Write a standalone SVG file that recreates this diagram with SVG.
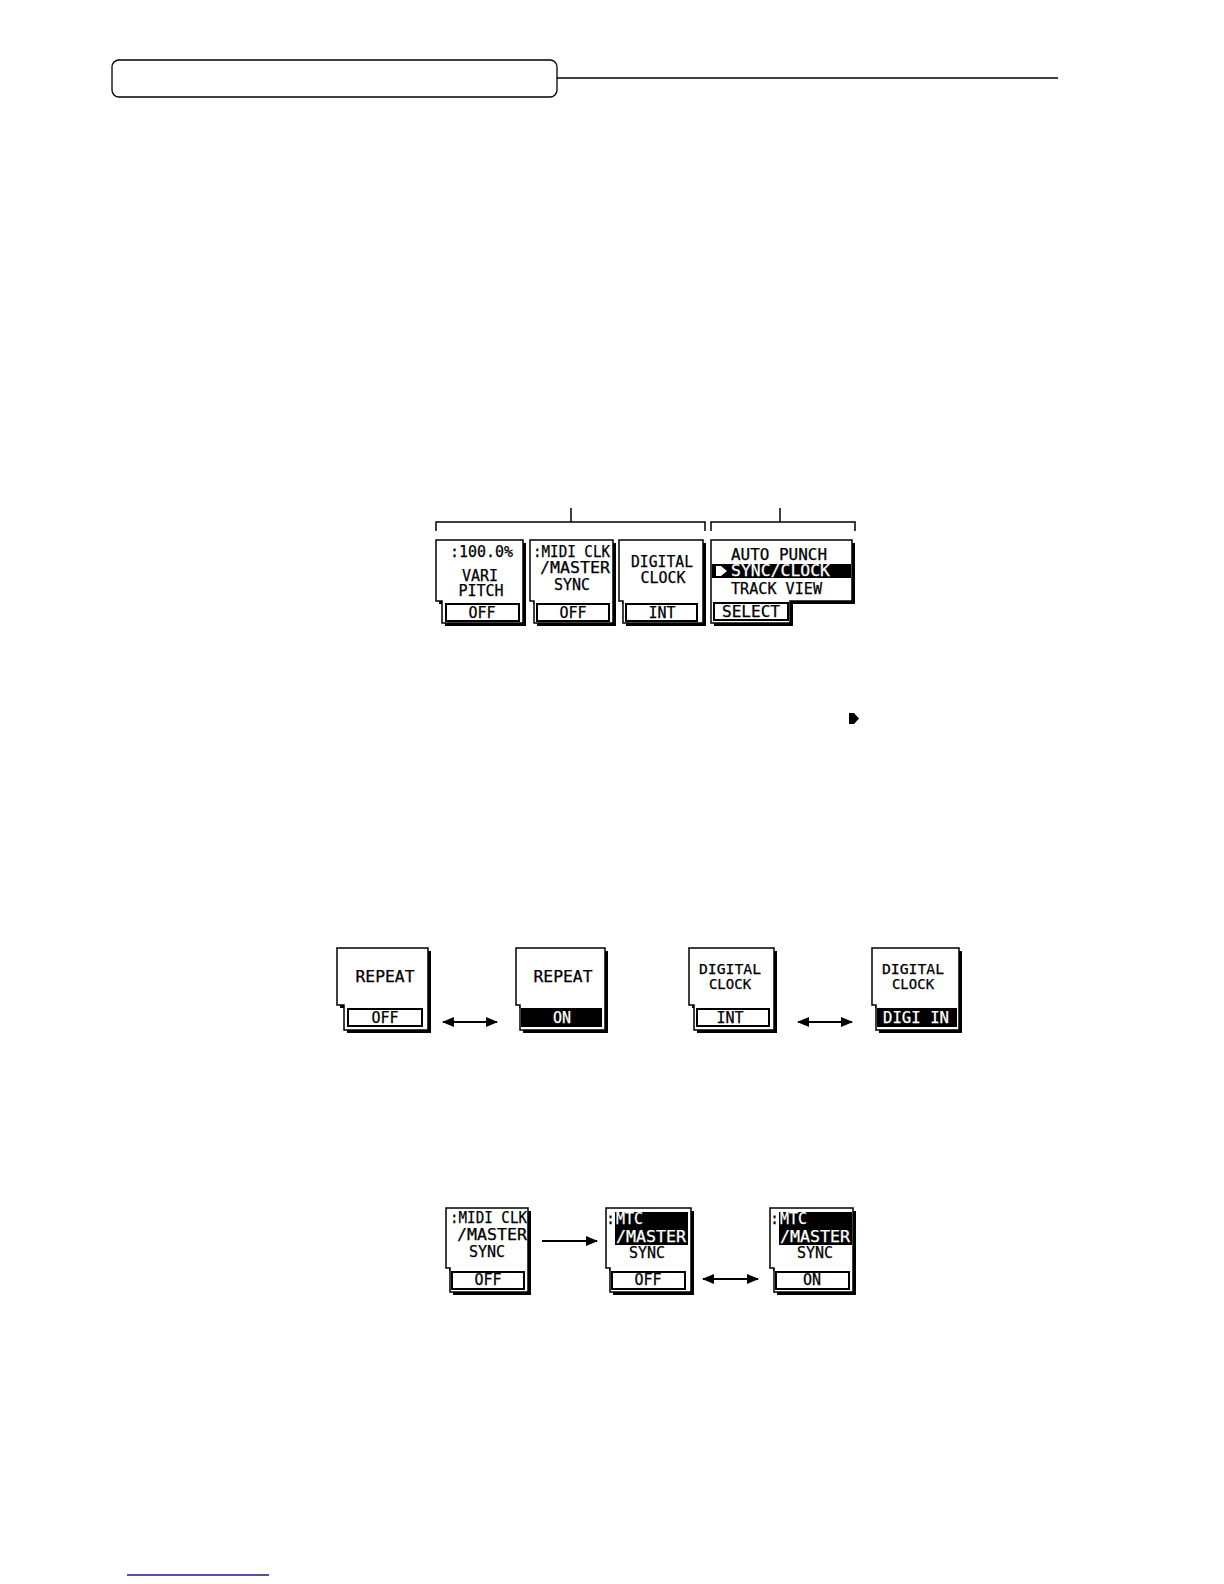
<svg xmlns="http://www.w3.org/2000/svg" width="1224" height="1584" viewBox="0 0 1224 1584">
<style>
.bg{fill:#fff}
.pnl{fill:#fff;stroke:#000;stroke-width:1.5;stroke-linejoin:miter}
.sh{fill:#000}
.vb{fill:#fff;stroke:#000;stroke-width:2}
.vbk{fill:#000;stroke:#000;stroke-width:2}
.t{font-family:"DejaVu Sans Mono","Liberation Mono",monospace;font-size:15px;fill:#000;stroke:#000;stroke-width:0.25}
.c{text-anchor:middle}
.w{fill:#fff;stroke:#fff}
.s{font-size:14px}
.ln{stroke:#000;stroke-width:1.5;fill:none}
.ar{stroke:#000;stroke-width:2;fill:none}
</style>
<defs>
<marker id="ah" markerWidth="12" markerHeight="10" refX="11" refY="5" orient="auto-start-reverse" markerUnits="userSpaceOnUse">
<path d="M0,0 L12,5 L0,10 Z" fill="#000"/>
</marker>
</defs>
<rect class="bg" width="1224" height="1584"/>

<g id="header">
<rect x="112" y="60" width="445" height="37" rx="7" fill="#fff" stroke="#000" stroke-width="1.3"/>
<line x1="557" y1="78" x2="1058" y2="78" stroke="#000" stroke-width="1.3"/>
</g>

<g id="brackets">
<path class="ln" d="M436,531 V522 H705 V531 M571,508 V522"/>
<path class="ln" d="M711,531 V522 H855 V531 M780,508 V522"/>
</g>

<g id="vari-pitch">
<path class="sh" d="M439,543 H526 V626 H445 V604 H439 Z"/>
<path class="pnl" d="M436,540 H523 V623 H442 V601 H436 Z"/>
<rect class="vb" x="446" y="604" width="73" height="17"/>
<text class="t" x="450" y="557" textLength="63" lengthAdjust="spacingAndGlyphs">:100.0%</text>
<text class="t c" x="480" y="581">VARI</text>
<text class="t c" x="481" y="596">PITCH</text>
<text class="t c" x="482" y="618">OFF</text>
</g>

<g id="midi-clk-sync">
<path class="sh" d="M533,543 H616 V626 H537 V604 H533 Z"/>
<path class="pnl" d="M530,540 H613 V623 H534 V601 H530 Z"/>
<rect class="vb" x="537" y="604" width="72" height="17"/>
<text class="t" x="533" y="557" textLength="77" lengthAdjust="spacingAndGlyphs">:MIDI CLK</text>
<text class="t" x="540" y="573" textLength="70" lengthAdjust="spacingAndGlyphs">/MASTER</text>
<text class="t c" x="572" y="590">SYNC</text>
<text class="t c" x="573" y="618">OFF</text>
</g>

<g id="digital-clock">
<path class="sh" d="M622,543 H706 V626 H626 V604 H622 Z"/>
<path class="pnl" d="M619,540 H703 V623 H623 V601 H619 Z"/>
<rect class="vb" x="626" y="604" width="71" height="17"/>
<text class="t c" x="662" y="567" textLength="62" lengthAdjust="spacingAndGlyphs">DIGITAL</text>
<text class="t c" x="663" y="583">CLOCK</text>
<text class="t c" x="662" y="618">INT</text>
</g>

<g id="menu">
<path class="sh" d="M714,543 H855 V604 H793 V626 H714 Z"/>
<path class="pnl" d="M711,540 H852 V601 H790 V623 H711 Z"/>
<rect x="712" y="564" width="139" height="14" fill="#000"/>
<path d="M716,566 H721 L727,571 L721,576 H716 Z" fill="#fff"/>
<rect class="vb" x="714" y="603" width="74" height="17"/>
<text class="t" x="731" y="560" textLength="96" lengthAdjust="spacingAndGlyphs">AUTO PUNCH</text>
<text class="t w" x="731" y="576" textLength="99" lengthAdjust="spacingAndGlyphs">SYNC/CLOCK</text>
<text class="t" x="731" y="594" textLength="91" lengthAdjust="spacingAndGlyphs">TRACK VIEW</text>
<text class="t" x="722" y="617" textLength="58" lengthAdjust="spacingAndGlyphs">SELECT</text>
</g>

<g id="cursor-symbol">
<path d="M849,713 H854 L859,718.5 L854,724 H849 Z" fill="#000"/>
</g>

<g id="repeat-off">
<path class="sh" d="M340,951 H431 V1033 H347 V1008 H340 Z"/>
<path class="pnl" d="M337,948 H428 V1030 H344 V1005 H337 Z"/>
<rect class="vb" x="348" y="1009" width="74" height="17"/>
<text class="t c" x="385" y="982" textLength="59" lengthAdjust="spacingAndGlyphs">REPEAT</text>
<text class="t c" x="385" y="1023">OFF</text>
</g>

<g id="repeat-on">
<path class="sh" d="M519,951 H608 V1033 H523 V1008 H519 Z"/>
<path class="pnl" d="M516,948 H605 V1030 H520 V1005 H516 Z"/>
<rect class="vbk" x="522" y="1009" width="79" height="17"/>
<text class="t c" x="563" y="982" textLength="59" lengthAdjust="spacingAndGlyphs">REPEAT</text>
<text class="t c w" x="562" y="1023">ON</text>
</g>

<g id="digital-int">
<path class="sh" d="M692,951 H777 V1033 H697 V1008 H692 Z"/>
<path class="pnl" d="M689,948 H774 V1030 H694 V1005 H689 Z"/>
<rect class="vb" x="697" y="1009" width="72" height="17"/>
<text class="t c s" x="730" y="974" textLength="62" lengthAdjust="spacingAndGlyphs">DIGITAL</text>
<text class="t c s" x="730" y="989">CLOCK</text>
<text class="t c" x="730" y="1023">INT</text>
</g>

<g id="digital-digi-in">
<path class="sh" d="M875,951 H962 V1033 H879 V1008 H875 Z"/>
<path class="pnl" d="M872,948 H959 V1030 H876 V1005 H872 Z"/>
<rect class="vbk" x="878" y="1009" width="78" height="17"/>
<text class="t c s" x="913" y="974" textLength="62" lengthAdjust="spacingAndGlyphs">DIGITAL</text>
<text class="t c s" x="913" y="989">CLOCK</text>
<text class="t c w" x="916" y="1023" textLength="66" lengthAdjust="spacingAndGlyphs">DIGI IN</text>
</g>

<g id="midi-off">
<path class="sh" d="M449,1211 H531 V1295 H453 V1271 H449 Z"/>
<path class="pnl" d="M446,1208 H528 V1292 H450 V1268 H446 Z"/>
<rect class="vb" x="452" y="1272" width="72" height="17"/>
<text class="t" x="450" y="1223" textLength="77" lengthAdjust="spacingAndGlyphs">:MIDI CLK</text>
<text class="t" x="457" y="1240" textLength="70" lengthAdjust="spacingAndGlyphs">/MASTER</text>
<text class="t c" x="487" y="1257">SYNC</text>
<text class="t c" x="488" y="1285">OFF</text>
</g>

<g id="mtc-off">
<path class="sh" d="M609,1211 H694 V1295 H613 V1271 H609 Z"/>
<path class="pnl" d="M606,1208 H691 V1292 H610 V1268 H606 Z"/>
<rect x="615" y="1212" width="73" height="33" fill="#000"/>
<rect class="vb" x="612" y="1272" width="73" height="17"/>
<text class="t" x="606" y="1224">:</text>
<text class="t w" x="616" y="1224">MTC</text>
<text class="t w" x="616" y="1242" textLength="70" lengthAdjust="spacingAndGlyphs">/MASTER</text>
<text class="t c" x="647" y="1258">SYNC</text>
<text class="t c" x="648" y="1285">OFF</text>
</g>

<g id="mtc-on">
<path class="sh" d="M773,1211 H856 V1295 H777 V1271 H773 Z"/>
<path class="pnl" d="M770,1208 H853 V1292 H774 V1268 H770 Z"/>
<rect x="779" y="1212" width="73" height="33" fill="#000"/>
<rect class="vb" x="776" y="1272" width="73" height="17"/>
<text class="t" x="770" y="1224">:</text>
<text class="t w" x="780" y="1224">MTC</text>
<text class="t w" x="780" y="1242" textLength="70" lengthAdjust="spacingAndGlyphs">/MASTER</text>
<text class="t c" x="815" y="1258">SYNC</text>
<text class="t c" x="812" y="1285">ON</text>
</g>

<g id="connectors">
<line class="ar" x1="443" y1="1022" x2="497" y2="1022" marker-start="url(#ah)" marker-end="url(#ah)"/>
<line class="ar" x1="798" y1="1022" x2="852" y2="1022" marker-start="url(#ah)" marker-end="url(#ah)"/>
<line class="ar" x1="542" y1="1241" x2="597" y2="1241" marker-end="url(#ah)"/>
<line class="ar" x1="703" y1="1279" x2="758" y2="1279" marker-start="url(#ah)" marker-end="url(#ah)"/>
</g>

<g id="footer">
<line x1="127" y1="1575" x2="269" y2="1575" stroke="#1a1a80" stroke-width="1.5"/>
</g>
</svg>
